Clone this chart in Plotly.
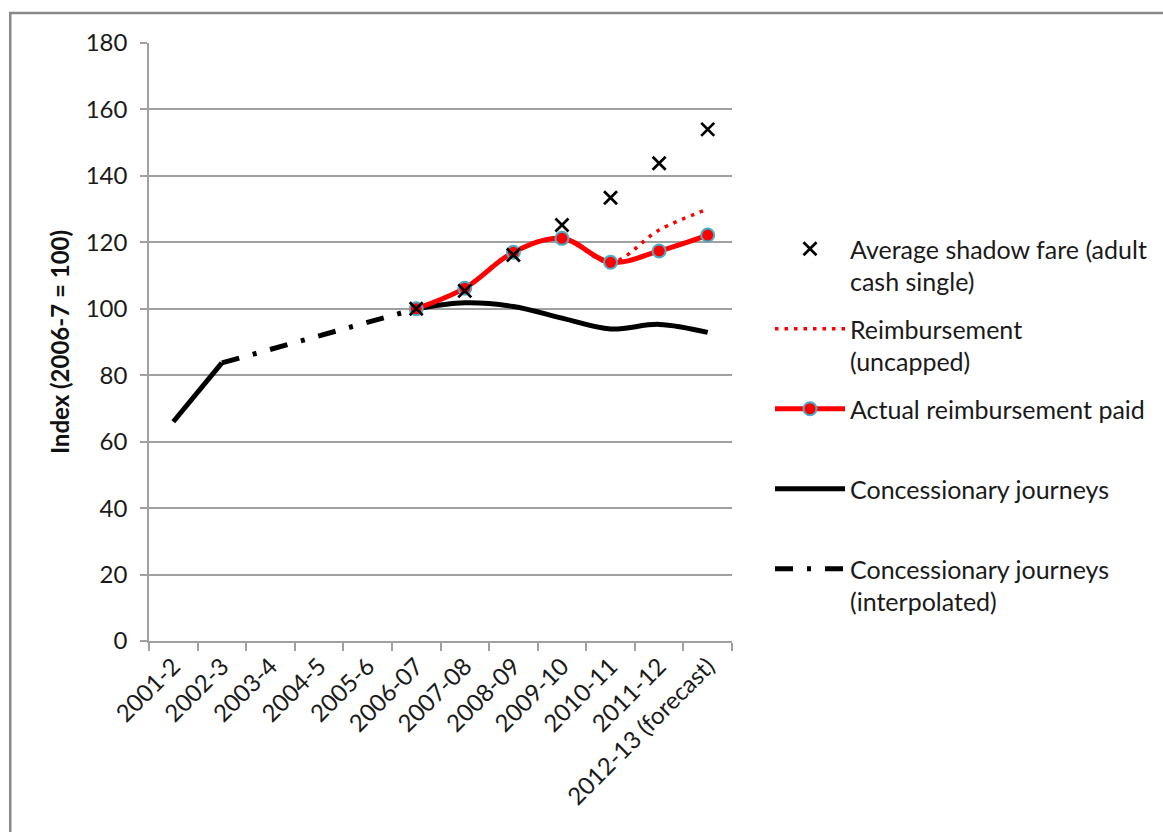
import plotly.graph_objects as go

categories = ["2001-2", "2002-3", "2003-4", "2004-5", "2005-6", "2006-07", "2007-08",
              "2008-09", "2009-10", "2010-11", "2011-12", "2012-13 (forecast)"]

shadow_fare = [None, None, None, None, None, 100, 105.4, 116.2, 125.2, 133.4, 143.8, 154.0]
reimb_uncapped = [None, None, None, None, None, 100, 106.2, 117.0, 121.2, 114.0, 123.7, 130.0]
reimb_actual = [None, None, None, None, None, 100, 106.2, 117.0, 121.2, 114.0, 117.4, 122.2]
journeys = [66.0, 83.7, None, None, None, 100, 101.8, 100.7, 97.2, 93.9, 95.3, 92.9]
journeys_interp = [None, 83.7, 87.8, 91.9, 95.9, 100, None, None, None, None, None, None]

W, H = 1163, 832
L, R, T, B = 149, 733, 43, 641
pw, ph = R - L, B - T

def px(x):
    return (x - L) / pw

def py(y):
    return (B - y) / ph

FONT = "Lato"
GRID = "#A0A0A0"
TXT = "#1a1a1a"

fig = go.Figure()

fig.add_trace(go.Scatter(
    x=categories, y=journeys_interp, mode="lines", name="Concessionary journeys<br>(interpolated)",
    line=dict(color="black", width=5, dash="18px,14px,4px,14px"), legendrank=5,
))
fig.add_trace(go.Scatter(
    x=categories, y=journeys, mode="lines", name="Concessionary journeys<br> ",
    line=dict(color="black", width=5, shape="spline"), connectgaps=False, legendrank=4,
))
fig.add_trace(go.Scatter(
    x=categories, y=reimb_uncapped, mode="lines", name="Reimbursement<br>(uncapped)",
    line=dict(color="#FF0000", width=3.5, dash="3.5px,6px", shape="spline"), legendrank=2,
))
fig.add_trace(go.Scatter(
    x=categories, y=reimb_actual, mode="lines+markers", name="Actual reimbursement paid<br> ",
    line=dict(color="#FF0000", width=5, shape="spline"),
    marker=dict(color="#FF0000", size=13, line=dict(color="#4BACC6", width=2)), legendrank=3,
))
fig.add_trace(go.Scatter(
    x=categories, y=shadow_fare, mode="markers", name="Average shadow fare (adult<br>cash single)",
    marker=dict(symbol="x-thin-open", size=13, color="black", line=dict(color="black", width=2.7)),
    legendrank=1,
))

fig.update_layout(
    width=W, height=H,
    margin=dict(l=L, r=W - R, t=T, b=H - B),
    paper_bgcolor="white", plot_bgcolor="white",
    font=dict(family=FONT, size=25, color=TXT),
    showlegend=True,
    legend=dict(
        x=px(770), y=py(226), xanchor="left", yanchor="top",
        font=dict(family=FONT, size=25, color=TXT),
        itemwidth=70, valign="top", tracegroupgap=12,
        bgcolor="rgba(0,0,0,0)",
    ),
    xaxis=dict(
        type="category", categoryorder="array", categoryarray=categories,
        range=[-0.5, 11.5], showgrid=False,
        showline=True, linecolor=GRID, linewidth=1.5,
        ticks="outside", tickson="boundaries", ticklen=8, tickcolor=GRID, tickwidth=1.5,
        tickangle=-45, tickfont=dict(family=FONT, size=24, color=TXT),
    ),
    yaxis=dict(
        range=[0, 180], dtick=20, tick0=0,
        showgrid=True, gridcolor=GRID, gridwidth=1.5,
        showline=True, linecolor=GRID, linewidth=1.5, zeroline=False,
        ticks="outside", ticklen=7, tickcolor=GRID, tickwidth=1.5,
        ticklabelstandoff=8,
        tickfont=dict(family=FONT, size=24, color=TXT),
        title=dict(text="<b>Index (2006-7 = 100)</b>", font=dict(family=FONT, size=24, color="#111111"),
                   standoff=9),
    ),
    shapes=[dict(
        type="rect", xref="paper", yref="paper",
        x0=px(10), x1=px(1180), y0=py(850), y1=py(13),
        line=dict(color="#888888", width=2.5), fillcolor="rgba(0,0,0,0)", layer="below",
    )],
)

fig.update_layout(legend_groupclick="toggleitem")
for i, tr in enumerate(fig.data):
    tr.legendgroup = f"g{i}"

fig.write_html("out.html")
